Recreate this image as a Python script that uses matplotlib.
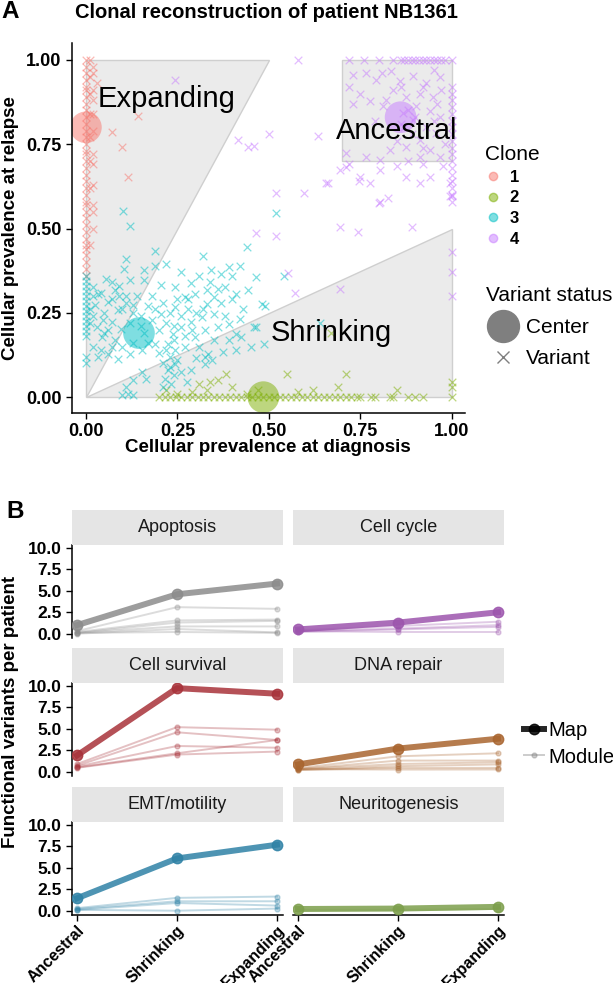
import numpy as np
import matplotlib

matplotlib.use("Agg")
import matplotlib.pyplot as plt
from matplotlib.lines import Line2D
from matplotlib.patches import Polygon

plt.rcParams["font.family"] = ["Liberation Sans", "DejaVu Sans"]

W, H = 613, 983

# ---------------- panel A data ----------------
clone_labels = ["1", "2", "3", "4"]
clone_colors = ["#F8766D", "#7CAE00", "#00BFC4", "#C77CFF"]

# clone 1: dense column at diagnosis = 0 plus a few scattered variants
clone1_col_y = [0.36, 0.38, 0.40, 0.42, 0.44, 0.45, 0.47, 0.49, 0.51, 0.53, 0.55, 0.57,
                0.58, 0.60, 0.62, 0.64, 0.66, 0.68, 0.70, 0.72, 0.73, 0.75, 0.77, 0.79,
                0.81, 0.83, 0.85, 0.87, 0.89, 0.91, 0.92, 0.94, 0.96, 0.98, 1.00]
clone1_pts = [(0.01, 1.0), (0.01, 0.95), (0.01, 0.90), (0.01, 0.84), (0.01, 0.77),
              (0.01, 0.70), (0.01, 0.62), (0.02, 0.98), (0.02, 0.96), (0.02, 0.91),
              (0.02, 0.88), (0.02, 0.84), (0.02, 0.79), (0.02, 0.72), (0.02, 0.69),
              (0.02, 0.63), (0.02, 0.57), (0.02, 0.55), (0.03, 0.93), (0.07, 0.787),
              (0.10, 0.743), (0.116, 0.654), (0.141, 0.835), (0.02, 0.50), (0.01, 0.45)]

# clone 2: line at relapse = 0
clone2_row_x = [0.20, 0.215, 0.23, 0.245, 0.26, 0.275, 0.29, 0.305, 0.32, 0.335, 0.35,
                0.365, 0.38, 0.395, 0.41, 0.425, 0.44, 0.455, 0.47, 0.485, 0.50, 0.515,
                0.53, 0.545, 0.56, 0.575, 0.59, 0.605, 0.62, 0.635, 0.65, 0.665, 0.68,
                0.695, 0.71, 0.725, 0.74, 0.75, 0.78, 0.79, 0.83, 0.84, 0.88, 0.90,
                0.92, 1.00]
clone2_pts = [(0.55, 0.07), (0.71, 0.068), (0.69, 0.03), (0.85, 0.02), (1.0, 0.045),
              (1.0, 0.03), (0.384, 0.07), (0.34, 0.045), (0.31, 0.04), (0.67, 0.19),
              (0.22, 0.02), (0.36, 0.05), (0.40, 0.03), (0.62, 0.02), (0.58, 0.015),
              (0.47, 0.02), (0.25, 0.01), (0.29, 0.015), (0.33, 0.02), (0.44, 0.01)]

# clone 3: column at diagnosis = 0 plus the main cloud
clone3_col_y = [0.10, 0.12, 0.18, 0.195, 0.21, 0.225, 0.24, 0.255, 0.27, 0.285, 0.30,
                0.315, 0.33, 0.345, 0.36]
clone3_pts = [(0.102, 0.553), (0.12, 0.507), (0.189, 0.434), (0.11, 0.41), (0.105, 0.381),
              (0.16, 0.378), (0.19, 0.39), (0.22, 0.395), (0.26, 0.37), (0.32, 0.418),
              (0.44, 0.446), (0.343, 0.376), (0.39, 0.385), (0.42, 0.39), (0.466, 0.355),
              (0.40, 0.36), (0.37, 0.365), (0.31, 0.36), (0.287, 0.337), (0.243, 0.327),
              (0.205, 0.332), (0.16, 0.346), (0.12, 0.346), (0.056, 0.35), (0.02, 0.327),
              (0.034, 0.307), (0.08, 0.317), (0.06, 0.282), (0.11, 0.30), (0.129, 0.273),
              (0.088, 0.258), (0.025, 0.272), (0.048, 0.228), (0.03, 0.208), (0.07, 0.223),
              (0.097, 0.203), (0.043, 0.178), (0.02, 0.149), (0.034, 0.119), (0.06, 0.129),
              (0.088, 0.114), (0.12, 0.129), (0.152, 0.139), (0.19, 0.159), (0.20, 0.20),
              (0.206, 0.248), (0.243, 0.268), (0.27, 0.297), (0.297, 0.307), (0.33, 0.317),
              (0.35, 0.297), (0.38, 0.327), (0.41, 0.307), (0.443, 0.317), (0.48, 0.277),
              (0.33, 0.277), (0.35, 0.248), (0.316, 0.238), (0.288, 0.223), (0.26, 0.208),
              (0.237, 0.188), (0.225, 0.159), (0.243, 0.139), (0.27, 0.149), (0.297, 0.178),
              (0.325, 0.198), (0.36, 0.208), (0.39, 0.218), (0.42, 0.233), (0.41, 0.188),
              (0.39, 0.17), (0.334, 0.129), (0.325, 0.099), (0.30, 0.115), (0.243, 0.099),
              (0.225, 0.08), (0.215, 0.055), (0.233, 0.04), (0.21, 0.03), (0.24, 0.065),
              (0.26, 0.075), (0.152, 0.075), (0.13, 0.05), (0.11, 0.03), (0.115, 0.01),
              (0.10, 0.005), (0.13, 0.005), (0.165, 0.055), (0.41, 0.139), (0.425, 0.178),
              (0.46, 0.208), (0.488, 0.159), (0.45, 0.15), (0.375, 0.134), (0.288, 0.08),
              (0.466, 0.209), (0.49, 0.27), (0.54, 0.36), (0.52, 0.547), (0.64, 0.22),
              (0.325, 0.12), (0.345, 0.11), (0.275, 0.045), (0.12, 0.22), (0.15, 0.24),
              (0.17, 0.27), (0.14, 0.30), (0.09, 0.33), (0.07, 0.29), (0.05, 0.25),
              (0.10, 0.26), (0.13, 0.16), (0.16, 0.19), (0.18, 0.23), (0.22, 0.22),
              (0.23, 0.25), (0.25, 0.29), (0.28, 0.26), (0.30, 0.25), (0.27, 0.18),
              (0.29, 0.20), (0.31, 0.15), (0.23, 0.12), (0.25, 0.11), (0.21, 0.10),
              (0.22, 0.14), (0.24, 0.17), (0.36, 0.32), (0.37, 0.28), (0.40, 0.29),
              (0.38, 0.24), (0.43, 0.26), (0.06, 0.20), (0.08, 0.17), (0.04, 0.14),
              (0.01, 0.22), (0.01, 0.26), (0.02, 0.30), (0.35, 0.17), (0.18, 0.30),
              (0.04, 0.31), (0.07, 0.34), (0.09, 0.30), (0.11, 0.28), (0.13, 0.25),
              (0.05, 0.19), (0.07, 0.15), (0.10, 0.15), (0.02, 0.24), (0.15, 0.21),
              (0.17, 0.16), (0.19, 0.26), (0.21, 0.28), (0.26, 0.24), (0.28, 0.29),
              (0.32, 0.26), (0.34, 0.34), (0.24, 0.21), (0.20, 0.13), (0.23, 0.09)]

# clone 4: ancestral box, column at diagnosis = 1 and a few outliers
clone4_col_y = [0.58, 0.60, 0.62, 0.64, 0.66, 0.68, 0.70, 0.72, 0.74, 0.76, 0.78, 0.80,
                0.82, 0.84, 0.86, 0.88, 0.90, 0.92]
clone4_row_x = [0.72, 0.76, 0.80, 0.84, 0.86, 0.87, 0.88, 0.89, 0.90, 0.91, 0.92, 0.93,
                0.94, 0.95, 0.96, 0.97, 0.98, 1.00]
clone4_pts = [(0.73, 0.956), (0.766, 0.96), (0.794, 0.94), (0.835, 0.966), (0.858, 0.936),
              (0.894, 0.951), (0.93, 0.931), (0.967, 0.95), (0.912, 0.90), (0.948, 0.89),
              (0.876, 0.89), (0.84, 0.91), (0.748, 0.90), (0.72, 0.92), (0.73, 0.87),
              (0.776, 0.877), (0.812, 0.862), (0.867, 0.842), (0.903, 0.862), (0.94, 0.847),
              (0.967, 0.832), (0.894, 0.822), (0.93, 0.80), (0.958, 0.783), (0.912, 0.763),
              (0.876, 0.743), (0.94, 0.733), (0.967, 0.713), (0.912, 0.713), (0.83, 0.733),
              (0.803, 0.703), (0.766, 0.713), (0.712, 0.723), (0.694, 0.674), (0.72, 0.69),
              (0.748, 0.654), (0.776, 0.634), (0.803, 0.674), (0.849, 0.684), (0.876, 0.654),
              (0.921, 0.69), (0.94, 0.654), (0.912, 0.634), (0.657, 0.634), (0.976, 0.684),
              (0.994, 0.634), (0.994, 0.595), (0.88, 0.85), (0.90, 0.83), (0.87, 0.80),
              (0.86, 0.81), (0.96, 0.87), (0.98, 0.75), (0.85, 0.76), (0.79, 0.82),
              (0.82, 0.88), (0.92, 0.92), (0.95, 0.97), (0.89, 0.78), (0.92, 0.74),
              (0.97, 0.91), (0.86, 0.92), (0.81, 0.96), (0.95, 0.82), (0.88, 0.70),
              (0.243, 0.94), (0.58, 1.0), (0.416, 0.763), (0.443, 0.743), (0.46, 0.745),
              (0.50, 0.78), (0.635, 0.775), (0.662, 0.634), (0.52, 0.606), (0.596, 0.604),
              (0.803, 0.58), (0.826, 0.59), (1.0, 0.595), (0.80, 0.575), (0.694, 0.505),
              (0.744, 0.49), (0.89, 0.505), (0.466, 0.486), (0.52, 0.478), (0.553, 0.369),
              (0.571, 0.31), (0.694, 0.32), (1.0, 0.43), (1.0, 0.37), (1.0, 0.30),
              (0.712, 0.683), (0.745, 0.64)]

center_x = [0.0, 0.485, 0.145, 0.86]
center_y = [0.80, 0.0, 0.19, 0.83]

expanding_region = [(0, 0), (0, 1), (0.5, 1)]
shrinking_region = [(0, 0), (1, 0), (1, 0.5)]
ancestral_region = [(0.7, 0.7), (1, 0.7), (1, 1), (0.7, 1)]

# ---------------- panel B data ----------------
stages = ["Ancestral", "Shrinking", "Expanding"]
pathways = ["Apoptosis", "Cell cycle", "Cell survival", "DNA repair",
            "EMT/motility", "Neuritogenesis"]
pathway_colors = ["#8c8c8c", "#9c55ad", "#a8323a", "#a9652f", "#2f82a6", "#7d9f4c"]

apoptosis_map = [1.0, 4.6, 5.85]
apoptosis_modules = [[0.3, 3.1, 2.9], [0.2, 1.55, 1.65], [0.1, 1.3, 1.5],
                     [0.1, 0.85, 0.85], [0.0, 0.55, 0.15], [0.1, 0.2, 0.1]]
cellcycle_map = [0.5, 1.3, 2.5]
cellcycle_modules = [[0.3, 0.2, 0.2], [0.4, 0.9, 1.4], [0.3, 0.6, 1.0], [0.2, 0.5, 0.8]]
survival_map = [1.9, 9.75, 9.1]
survival_modules = [[0.9, 5.2, 4.9], [0.7, 4.6, 3.7], [0.6, 3.0, 2.8],
                    [0.5, 2.15, 3.7], [0.45, 2.0, 2.35]]
dnarepair_map = [0.85, 2.7, 3.85]
dnarepair_modules = [[0.4, 1.8, 2.15], [0.3, 1.3, 1.3], [0.3, 0.9, 1.1],
                     [0.2, 0.65, 0.85], [0.2, 0.45, 0.45], [0.3, 0.25, 0.26]]
emt_map = [1.45, 6.1, 7.7]
emt_modules = [[0.3, 1.5, 1.65], [0.2, 1.1, 1.1], [0.1, 0.9, 0.6], [0.1, 0.0, 0.25]]
neurito_map = [0.2, 0.25, 0.45]
neurito_modules = [[0.1, 0.1, 0.2]]

pathway_maps = [apoptosis_map, cellcycle_map, survival_map, dnarepair_map, emt_map, neurito_map]
pathway_modules = [apoptosis_modules, cellcycle_modules, survival_modules,
                   dnarepair_modules, emt_modules, neurito_modules]


def px_axes(fig, x0, y0, x1, y1):
    return fig.add_axes([x0 / W, 1 - y1 / H, (x1 - x0) / W, (y1 - y0) / H])


def bold_ticks(ax):
    for lbl in ax.get_xticklabels() + ax.get_yticklabels():
        lbl.set_fontweight("bold")


fig = plt.figure(figsize=(W / 100, H / 100), dpi=100)

# ---------------- panel A ----------------
ax = px_axes(fig, 72, 43, 465, 413)
for region in (expanding_region, shrinking_region, ancestral_region):
    ax.add_patch(Polygon(region, closed=True, facecolor="#ebebeb",
                         edgecolor="#cfcfcf", linewidth=1.0, zorder=1))

ax.scatter(center_x, center_y, s=520, c=clone_colors, alpha=0.5, edgecolors="none", zorder=2)

groups = [
    (np.r_[np.zeros(len(clone1_col_y)), [p[0] for p in clone1_pts]],
     np.r_[clone1_col_y, [p[1] for p in clone1_pts]]),
    (np.r_[clone2_row_x, [p[0] for p in clone2_pts]],
     np.r_[np.zeros(len(clone2_row_x)), [p[1] for p in clone2_pts]]),
    (np.r_[np.zeros(len(clone3_col_y)), [p[0] for p in clone3_pts]],
     np.r_[clone3_col_y, [p[1] for p in clone3_pts]]),
    (np.r_[np.ones(len(clone4_col_y)), clone4_row_x, [p[0] for p in clone4_pts]],
     np.r_[clone4_col_y, np.ones(len(clone4_row_x)), [p[1] for p in clone4_pts]]),
]
for (gx, gy), col in zip(groups, clone_colors):
    ax.scatter(gx, gy, marker="x", s=30, color=col, alpha=0.5, linewidths=0.9, zorder=3)

ax.text(0.22, 0.885, "Expanding", fontsize=21, ha="center", va="center", zorder=5)
ax.text(0.85, 0.79, "Ancestral", fontsize=21, ha="center", va="center", zorder=5)
ax.text(0.67, 0.19, "Shrinking", fontsize=21, ha="center", va="center", zorder=5)

ax.set_xlim(-0.038, 1.036)
ax.set_ylim(-0.047, 1.05)
ticks = [0, 0.25, 0.5, 0.75, 1.0]
ax.set_xticks(ticks, ["0.00", "0.25", "0.50", "0.75", "1.00"])
ax.set_yticks(ticks, ["0.00", "0.25", "0.50", "0.75", "1.00"])
ax.tick_params(labelsize=13, length=4, width=1, colors="black")
bold_ticks(ax)
for side in ("top", "right"):
    ax.spines[side].set_visible(False)
for side in ("left", "bottom"):
    ax.spines[side].set_linewidth(1.1)

fig.text(268 / W, 1 - 447 / H, "Cellular prevalence at diagnosis", fontsize=13.5,
         weight="bold", ha="center", va="center")
fig.text(11 / W, 1 - 228 / H, "Cellular prevalence at relapse", fontsize=13.5,
         weight="bold", ha="center", va="center", rotation=90)
fig.text(266 / W, 1 - 12 / H, "Clonal reconstruction of patient NB1361", fontsize=14.5,
         weight="bold", ha="center", va="center")
fig.text(1 / W, 1 - 11 / H, "A", fontsize=17.5, weight="bold", ha="left", va="center")

clone_handles = [Line2D([], [], linestyle="none", marker="o", markersize=6,
                        color=c, alpha=0.5) for c in clone_colors]
fig.legend(clone_handles, clone_labels, title="Clone", loc="upper left",
           bbox_to_anchor=(478 / W, 1 - 138 / H), frameon=False,
           prop={"size": 12, "weight": "bold"}, title_fontproperties={"size": 15},
           handlelength=1.0, handletextpad=0.5, labelspacing=0.35,
           alignment="left", borderaxespad=0)
status_handles = [Line2D([], [], linestyle="none", marker="o", markersize=23, color="#7f7f7f"),
                  Line2D([], [], linestyle="none", marker="x", markersize=9,
                         color="#7f7f7f", markeredgewidth=1.0)]
fig.legend(status_handles, ["Center", "Variant"], title="Variant status",
           loc="upper left", bbox_to_anchor=(478 / W, 1 - 278 / H), frameon=False,
           prop={"size": 15}, title_fontproperties={"size": 15},
           handlelength=1.6, handletextpad=0.3, labelspacing=0.6,
           alignment="left", borderaxespad=0)

# ---------------- panel B ----------------
row_tops = [545, 683, 822]
col_lefts = [72, 293]
panel_w, panel_h, strip_h = 211, 93, 35
x_pos = [1, 2, 3]

for i, name in enumerate(pathways):
    r, c = divmod(i, 2)
    x0, y0 = col_lefts[c], row_tops[r]
    bx = px_axes(fig, x0, y0, x0 + panel_w, y0 + panel_h)
    sx = px_axes(fig, x0, y0 - strip_h, x0 + panel_w, y0)
    sx.set_facecolor("#e5e5e5")
    sx.set_xticks([])
    sx.set_yticks([])
    for sp in sx.spines.values():
        sp.set_visible(False)
    sx.text(0.5, 0.5, name, fontsize=13, ha="center", va="center",
            color="#1a1a1a", transform=sx.transAxes)

    col = pathway_colors[i]
    for mod in pathway_modules[i]:
        bx.plot(x_pos, mod, color=col, lw=1.4, alpha=0.3, marker="o", markersize=3.5,
                zorder=2)
    bx.plot(x_pos, pathway_maps[i], color=col, lw=4.3, alpha=0.85, marker="o",
            markersize=7.5, zorder=3)

    bx.set_xlim(0.95, 3.06)
    bx.set_ylim(-0.5, 10.35)
    for side in ("top", "right"):
        bx.spines[side].set_visible(False)
    bx.set_yticks([0, 2.5, 5, 7.5, 10], ["0.0", "2.5", "5.0", "7.5", "10.0"])
    bx.set_xticks(x_pos, stages)
    bx.tick_params(labelsize=12.5, length=4, width=1, colors="black")
    bx.tick_params(axis="x", labelsize=11.5, pad=1.5)
    if c == 1:
        bx.spines["left"].set_visible(False)
        bx.tick_params(axis="y", left=False, labelleft=False)
    if r < 2:
        bx.spines["bottom"].set_visible(False)
        bx.tick_params(axis="x", bottom=False, labelbottom=False)
    else:
        for lbl in bx.get_xticklabels():
            lbl.set_rotation(45)
            lbl.set_ha("right")
            lbl.set_rotation_mode("anchor")
    bold_ticks(bx)
    for side in ("left", "bottom"):
        bx.spines[side].set_linewidth(1.1)

fig.text(11 / W, 1 - 712 / H, "Functional variants per patient", fontsize=13.5,
         weight="bold", ha="center", va="center", rotation=90)
fig.text(6 / W, 1 - 511 / H, "B", fontsize=17.5, weight="bold", ha="left", va="center")

map_handles = [Line2D([], [], color="black", lw=4.3, marker="o", markersize=7.5, alpha=0.85),
               Line2D([], [], color="gray", lw=1.4, marker="o", markersize=3.5, alpha=0.4)]
fig.legend(map_handles, ["Map", "Module"], loc="center left",
           bbox_to_anchor=(516 / W, 1 - 744 / H), frameon=False, prop={"size": 14.5},
           handlelength=1.0, handletextpad=0.2, labelspacing=0.35, borderaxespad=0)

fig.savefig("out.png", dpi=100)
